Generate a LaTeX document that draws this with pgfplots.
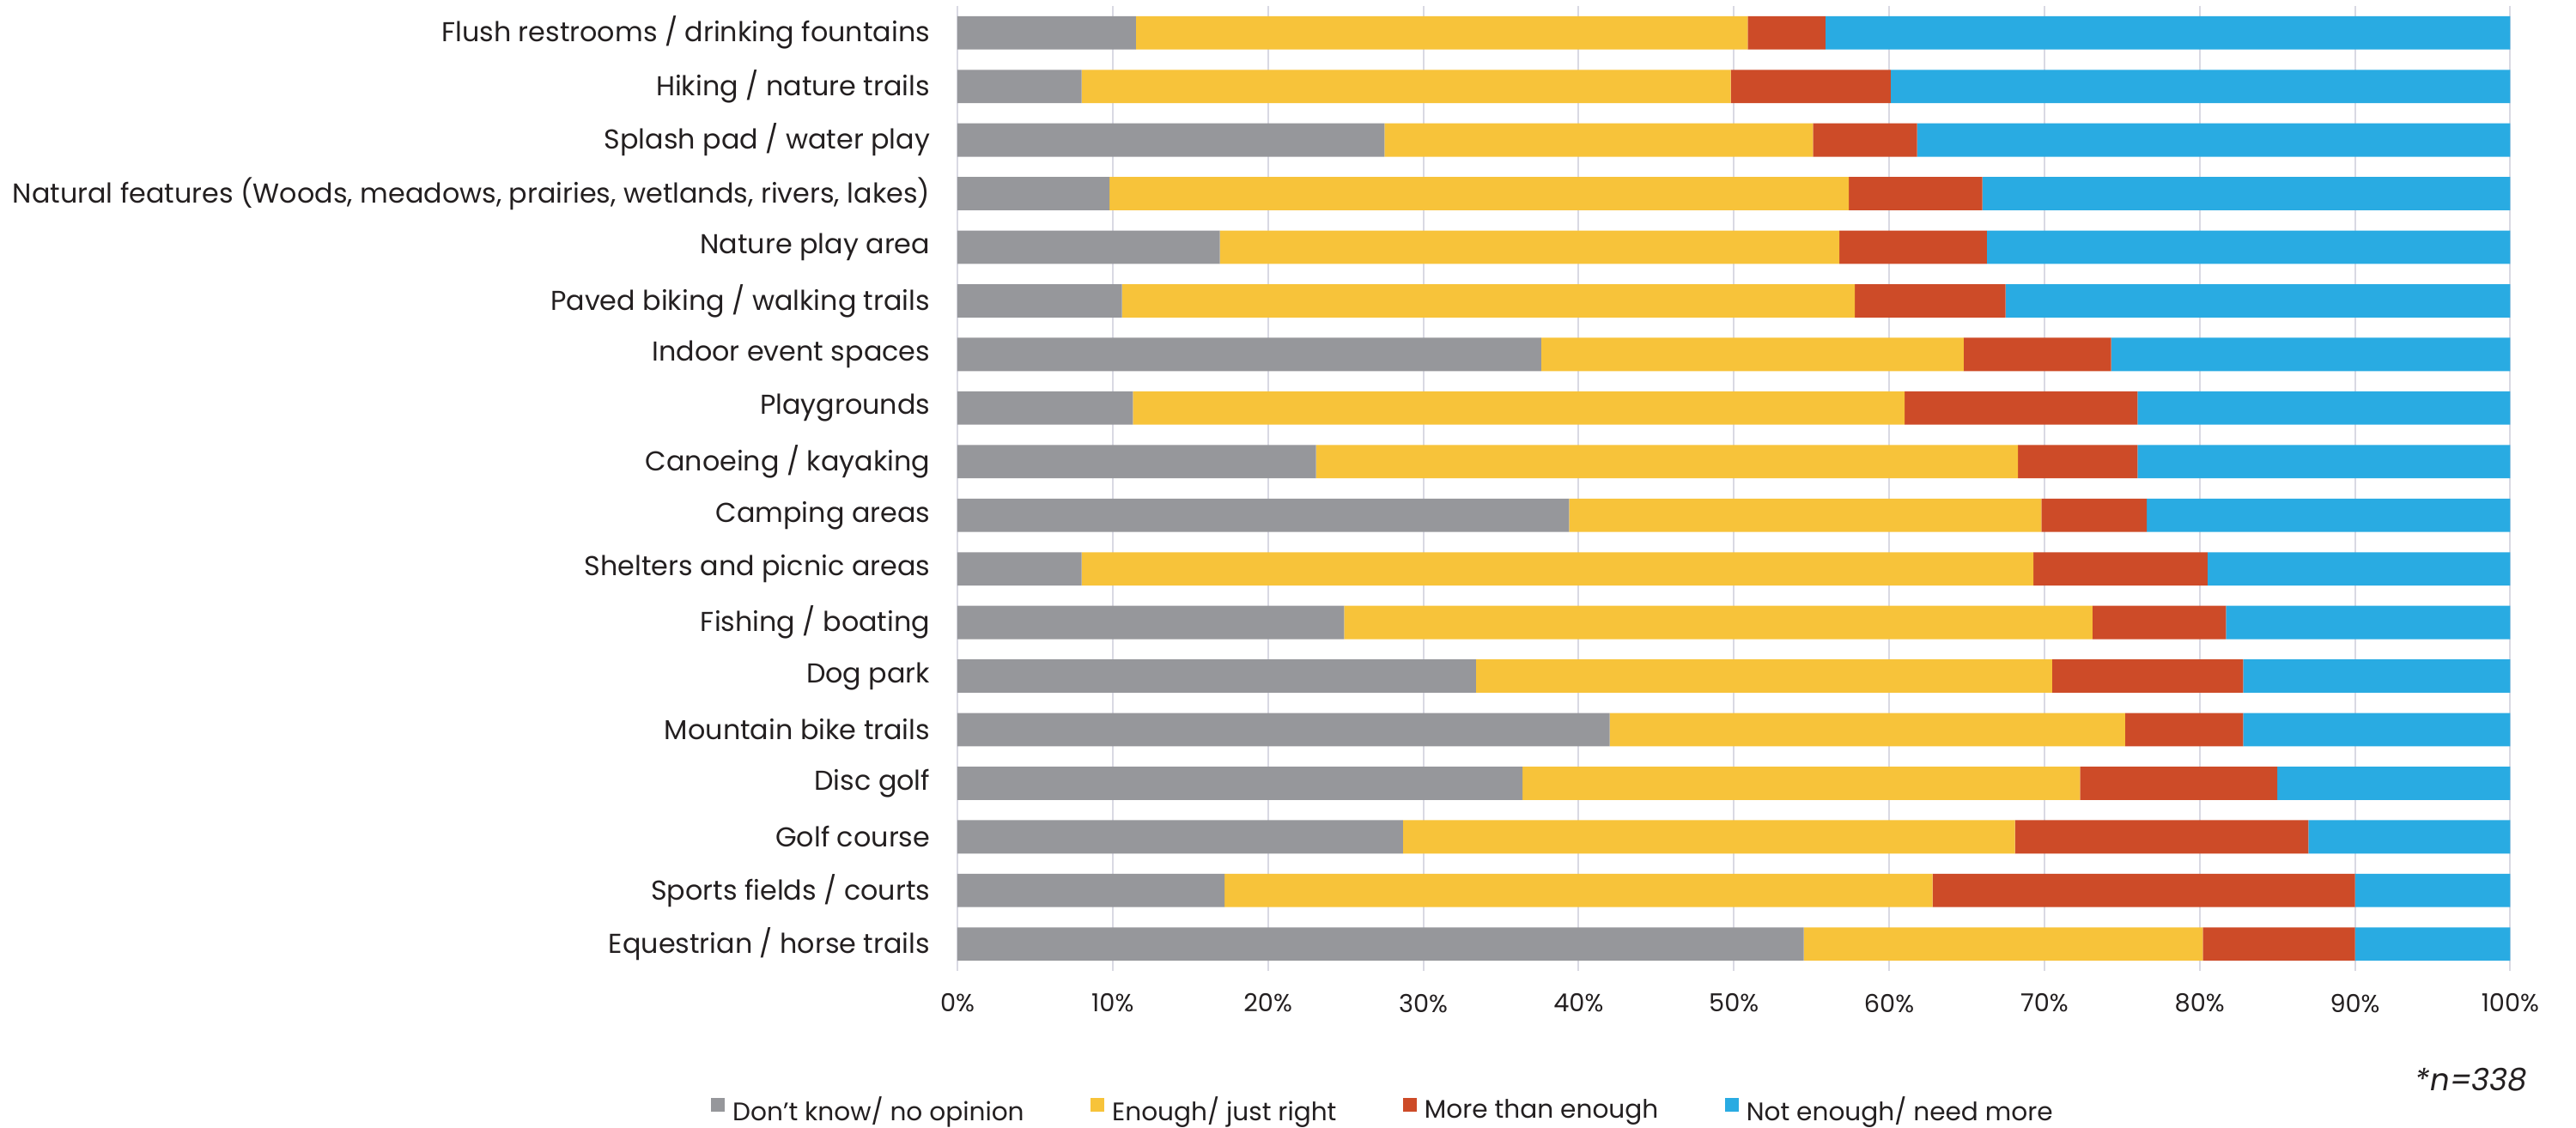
\documentclass[border=0pt]{standalone}
\usepackage{fontspec}
\setmainfont{Poppins}
\usepackage{pgfplots}
\usepackage{pgfplotstable}
\pgfplotsset{compat=1.18}
\definecolor{cgray}{RGB}{150,151,155}
\definecolor{cyellow}{RGB}{247,195,58}
\definecolor{cred}{RGB}{205,75,40}
\definecolor{cblue}{RGB}{41,171,226}
\definecolor{cgrid}{RGB}{217,217,227}
\definecolor{ctext}{RGB}{35,31,32}
\pgfplotstableread{
y dk enough more need
0 11.5 39.4 5.0 44.1
1 8.0 41.8 10.3 39.9
2 27.5 27.6 6.7 38.2
3 9.8 47.6 8.6 34.0
4 16.9 39.9 9.5 33.7
5 10.6 47.2 9.7 32.5
6 37.6 27.2 9.5 25.7
7 11.3 49.7 15.0 24.0
8 23.1 45.2 7.7 24.0
9 39.4 30.4 6.8 23.4
10 8.0 61.3 11.2 19.5
11 24.9 48.2 8.6 18.3
12 33.4 37.1 12.3 17.2
13 42.0 33.2 7.6 17.2
14 36.4 35.9 12.7 15.0
15 28.7 39.4 18.9 13.0
16 17.2 45.6 27.2 10.0
17 54.5 25.7 9.8 10.0
}\datatable
\begin{document}
\begin{tikzpicture}
\path[use as bounding box] (-278.75pt,-45.75pt) rectangle (471.25pt,282.75pt);
\begin{axis}[
  xbar stacked, bar width=9.7pt,
  scale only axis, width=452.1pt, height=281pt,
  xmin=0, xmax=100, ymin=-0.5, ymax=17.5, y dir=reverse,
  axis line style={draw=none},
  major tick length=0pt,
  xmajorgrids, grid style={cgrid, line width=0.5pt},
  xtick={0,10,...,100},
  xticklabels={0\%,10\%,20\%,30\%,40\%,50\%,60\%,70\%,80\%,90\%,100\%},
  ytick={0,...,17},
  yticklabels={Flush restrooms / drinking fountains,Hiking / nature trails,Splash pad / water play,{Natural features (Woods, meadows, prairies, wetlands, rivers, lakes)},Nature play area,Paved biking / walking trails,Indoor event spaces,Playgrounds,Canoeing / kayaking,Camping areas,Shelters and picnic areas,Fishing / boating,Dog park,Mountain bike trails,Disc golf,Golf course,Sports fields / courts,Equestrian / horse trails},
  yticklabel style={anchor=east, inner sep=0pt, xshift=-7.75pt, font=\fontsize{7.95}{9}\selectfont, text=ctext},
  xticklabel style={anchor=north, inner sep=0pt, yshift=-6.5pt, font=\fontsize{7.2}{9}\selectfont, text=ctext},
  legend columns=4,
  legend cell align=left,
  legend style={at={(0.2735,-0.1458)}, anchor=center, draw=none, fill=none,
    font=\fontsize{7.4}{8}\selectfont, text=ctext,
    nodes={inner sep=0pt},
    /tikz/every odd column/.append style={column sep=2.2pt},
    /tikz/every even column/.append style={column sep=19.4pt}},
  legend image code/.code={\fill[#1] (0pt,0pt) rectangle (4pt,4pt);},
]
\addplot[fill=cgray, draw=none] table[x=dk, y=y] {\datatable};
\addplot[fill=cyellow, draw=none] table[x=enough, y=y] {\datatable};
\addplot[fill=cred, draw=none] table[x=more, y=y] {\datatable};
\addplot[fill=cblue, draw=none] table[x=need, y=y] {\datatable};
\legend{Don’t know/ no opinion, Enough/ just right, More than enough, Not enough/ need more}
\end{axis}
\node[anchor=east, inner sep=0pt, font=\fontsize{8.9}{10}\selectfont\itshape, text=ctext] at (457.25pt,-31.75pt) {*n=338};
\end{tikzpicture}
\end{document}
